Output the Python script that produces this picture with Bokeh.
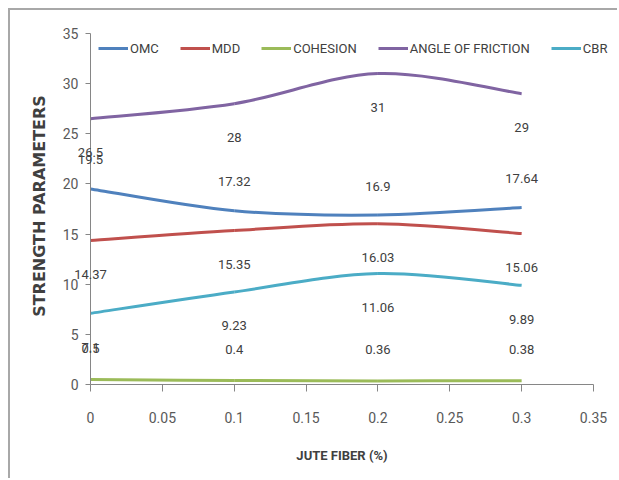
import math

from bokeh.plotting import figure
from bokeh.models import (ColumnDataSource, Label, Legend, LegendItem,
                          FixedTicker, Range1d)
from bokeh.embed import file_html
from bokeh.resources import INLINE

# ---- data -------------------------------------------------------------
fiber = [0, 0.1, 0.2, 0.3]
omc = [19.5, 17.32, 16.9, 17.64]
mdd = [14.37, 15.35, 16.03, 15.06]
cohesion = [0.5, 0.4, 0.36, 0.38]
friction = [26.5, 28, 31, 29]
cbr = [7.1, 9.23, 11.06, 9.89]

series_names = ["OMC", "MDD", "COHESION", "ANGLE OF FRICTION", "CBR"]
x_ticks = [0, 0.05, 0.1, 0.15, 0.2, 0.25, 0.3, 0.35]
x_tick_labels = ["0", "0.05", "0.1", "0.15", "0.2", "0.25", "0.3", "0.35"]
y_ticks = [0, 5, 10, 15, 20, 25, 30, 35]
x_title = "JUTE FIBER (%)"
y_title = "STRENGTH PARAMETERS"

# ---- styling ----------------------------------------------------------
colors = ["#4F81BD", "#C0504D", "#9BBB59", "#8064A2", "#4BACC6"]
label_shift = [29, -34, 31, -34, -34]   # screen px, positive = above the point
FONT = "Roboto"
AXIS_GREY = "#868686"

# The plotting frame covers the whole canvas, so value labels at x = 0,
# the long legend and the tick labels are never cut; both axes are pinned
# at zero and the visible axis area is 0..0.35 by 0..35.
W, H = 609, 470
LEFT, RIGHT, TOP, BOTTOM = 80, 26, 23, 96      # canvas px around the axis box
px_x = (W - LEFT - RIGHT) / 0.35
px_y = (H - TOP - BOTTOM) / 35.0
x_rng = Range1d(-LEFT / px_x, 0.35 + RIGHT / px_x)
y_rng = Range1d(-BOTTOM / px_y, 35 + TOP / px_y)

p = figure(width=W, height=H, output_backend="svg", toolbar_location=None,
           x_range=x_rng, y_range=y_rng,
           min_border_left=0, min_border_right=0,
           min_border_top=0, min_border_bottom=0)
p.margin = (8, 0, 0, 8)
p.styles = {"border-top": "2px solid #a8a8a8", "border-left": "2px solid #a8a8a8"}
p.outline_line_color = None
p.xgrid.visible = False
p.ygrid.visible = False
p.background_fill_color = "white"
p.border_fill_color = "white"


def smooth_segments(xs, ys):
    """Cubic Bezier pieces through the points (smoothed-line style)."""
    n = len(xs)
    seg = dict(x0=[], y0=[], x1=[], y1=[], cx0=[], cy0=[], cx1=[], cy1=[])
    for i in range(n - 1):
        a = max(i - 1, 0)
        d = min(i + 2, n - 1)
        seg["x0"].append(xs[i]); seg["y0"].append(ys[i])
        seg["x1"].append(xs[i + 1]); seg["y1"].append(ys[i + 1])
        seg["cx0"].append(xs[i] + (xs[i + 1] - xs[a]) / 6.0)
        seg["cy0"].append(ys[i] + (ys[i + 1] - ys[a]) / 6.0)
        seg["cx1"].append(xs[i + 1] - (xs[d] - xs[i]) / 6.0)
        seg["cy1"].append(ys[i + 1] - (ys[d] - ys[i]) / 6.0)
    return seg


all_values = [omc, mdd, cohesion, friction, cbr]
legend_items = []
for name, vals, col, shift in zip(series_names, all_values, colors, label_shift):
    curve = p.bezier(x0="x0", y0="y0", x1="x1", y1="y1", cx0="cx0", cy0="cy0",
                     cx1="cx1", cy1="cy1",
                     source=ColumnDataSource(smooth_segments(fiber, vals)),
                     line_color=col, line_width=3)
    legend_items.append(LegendItem(label=name, renderers=[curve], index=0))

    # value labels, one per point
    for xv, yv in zip(fiber, vals):
        p.add_layout(Label(x=xv, y=yv, text=f"{yv:g}", y_offset=shift,
                           text_align="center", text_baseline="middle",
                           text_font=FONT, text_font_size="13px",
                           text_color="#404040"))

legend = Legend(items=legend_items, orientation="horizontal",
                location=(88, H - TOP - 25), padding=0, margin=0, spacing=21,
                glyph_width=30, glyph_height=20, label_height=20,
                label_standoff=2, border_line_color=None,
                background_fill_alpha=0,
                label_text_font=FONT, label_text_font_size="13px",
                label_text_color="#404040")
p.add_layout(legend)

# axes, pinned at zero
p.xaxis.ticker = FixedTicker(ticks=x_ticks)
p.xaxis.major_label_overrides = dict(zip(x_ticks, x_tick_labels))
p.xaxis.bounds = (0, 0.35)
p.xaxis.fixed_location = 0
p.yaxis.ticker = FixedTicker(ticks=y_ticks)
p.yaxis.bounds = (0, 35)
p.yaxis.fixed_location = 0
for ax in (p.xaxis, p.yaxis):
    ax.axis_line_color = AXIS_GREY
    ax.major_tick_line_color = AXIS_GREY
    ax.minor_tick_line_color = None
    ax.major_tick_in = 0
    ax.major_label_text_font = FONT
    ax.major_label_text_font_size = "14px"
    ax.major_label_text_color = "#595959"
p.xaxis.major_tick_out = 7
p.yaxis.major_tick_out = 5
p.xaxis.major_label_standoff = 20
p.yaxis.major_label_standoff = 7

# axis titles, centred on the axis box
p.add_layout(Label(x=0.175, y=0, y_offset=-71, text=x_title,
                   text_align="center", text_baseline="middle",
                   text_font=FONT, text_font_style="bold",
                   text_font_size="13px", text_color="#404040"))
p.add_layout(Label(x=0, y=17.5, x_offset=-51, y_offset=3, text=y_title,
                   angle=math.pi / 2, text_align="center",
                   text_baseline="middle", text_font="DejaVu Sans",
                   text_font_style="bold", text_font_size="16px",
                   text_color="#404040"))

open("out.html", "w").write(file_html(p, INLINE))
